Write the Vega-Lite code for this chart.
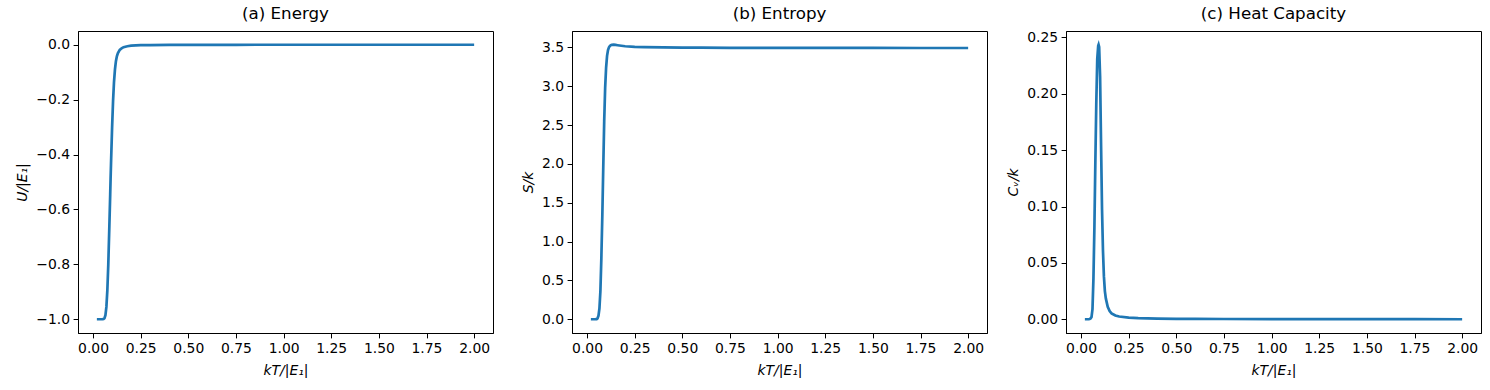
{
  "$schema": "https://vega.github.io/schema/vega-lite/v6.json",
  "padding": {"left": 15, "top": 5, "right": 0, "bottom": 0},
  "background": "white",
  "data": {"values": [
    {"t": 0.02, "U": -1.0, "S": 0.0, "C": 0.0},
    {"t": 0.03, "U": -1.0, "S": 0.0, "C": 0.0},
    {"t": 0.04, "U": -1.0, "S": 0.0, "C": 0.0},
    {"t": 0.045, "U": -1.0, "S": 0.0005, "C": 0.0002},
    {"t": 0.05, "U": -0.9998, "S": 0.002, "C": 0.0006},
    {"t": 0.055, "U": -0.999, "S": 0.012, "C": 0.002},
    {"t": 0.06, "U": -0.996, "S": 0.045, "C": 0.009},
    {"t": 0.065, "U": -0.985, "S": 0.14, "C": 0.036},
    {"t": 0.07, "U": -0.955, "S": 0.36, "C": 0.081},
    {"t": 0.075, "U": -0.895, "S": 0.78, "C": 0.139},
    {"t": 0.08, "U": -0.8, "S": 1.32, "C": 0.192},
    {"t": 0.085, "U": -0.675, "S": 1.95, "C": 0.231},
    {"t": 0.09, "U": -0.545, "S": 2.55, "C": 0.2425},
    {"t": 0.092, "U": -0.49, "S": 2.72, "C": 0.2435},
    {"t": 0.095, "U": -0.415, "S": 2.98, "C": 0.2415},
    {"t": 0.1, "U": -0.3, "S": 3.24, "C": 0.215},
    {"t": 0.105, "U": -0.205, "S": 3.39, "C": 0.155},
    {"t": 0.11, "U": -0.135, "S": 3.465, "C": 0.098},
    {"t": 0.115, "U": -0.09, "S": 3.5, "C": 0.061},
    {"t": 0.12, "U": -0.06, "S": 3.518, "C": 0.038},
    {"t": 0.125, "U": -0.042, "S": 3.527, "C": 0.025},
    {"t": 0.13, "U": -0.031, "S": 3.532, "C": 0.0185},
    {"t": 0.14, "U": -0.019, "S": 3.534, "C": 0.011},
    {"t": 0.15, "U": -0.013, "S": 3.531, "C": 0.0072},
    {"t": 0.16, "U": -0.009, "S": 3.527, "C": 0.0052},
    {"t": 0.18, "U": -0.0055, "S": 3.52, "C": 0.0033},
    {"t": 0.2, "U": -0.0036, "S": 3.514, "C": 0.0024},
    {"t": 0.25, "U": -0.0018, "S": 3.506, "C": 0.0014},
    {"t": 0.3, "U": -0.0011, "S": 3.502, "C": 0.001},
    {"t": 0.4, "U": -0.0006, "S": 3.498, "C": 0.0006},
    {"t": 0.5, "U": -0.0004, "S": 3.496, "C": 0.0004},
    {"t": 0.6, "U": -0.0003, "S": 3.495, "C": 0.0003},
    {"t": 0.75, "U": -0.0002, "S": 3.494, "C": 0.0002},
    {"t": 1.0, "U": -0.00012, "S": 3.493, "C": 0.0001},
    {"t": 1.25, "U": -0.00008, "S": 3.492, "C": 0.00007},
    {"t": 1.5, "U": -0.00006, "S": 3.492, "C": 0.00005},
    {"t": 1.75, "U": -0.00004, "S": 3.491, "C": 0.00003},
    {"t": 2.0, "U": -0.00003, "S": 3.491, "C": 0.00002}
  ]},
  "hconcat": [
    {
      "width": 415, "height": 302,
      "title": {"text": "(a) Energy"},
      "mark": {"type": "line", "color": "#1f77b4", "strokeWidth": 2.7, "clip": true},
      "encoding": {
        "x": {"field": "t", "type": "quantitative", "scale": {"domain": [-0.079, 2.099], "nice": false, "zero": false},
              "axis": {"title": "kT/|E₁|", "values": [0, 0.25, 0.5, 0.75, 1.0, 1.25, 1.5, 1.75, 2.0], "format": ".2f", "titlePadding": 8}},
        "y": {"field": "U", "type": "quantitative", "scale": {"domain": [-1.05, 0.05], "nice": false, "zero": false},
              "axis": {"title": "U/|E₁|", "values": [-1.0, -0.8, -0.6, -0.4, -0.2, 0.0], "format": ".1f"}}
      }
    },
    {
      "width": 415, "height": 302,
      "title": {"text": "(b) Entropy"},
      "mark": {"type": "line", "color": "#1f77b4", "strokeWidth": 2.7, "clip": true},
      "encoding": {
        "x": {"field": "t", "type": "quantitative", "scale": {"domain": [-0.079, 2.099], "nice": false, "zero": false},
              "axis": {"title": "kT/|E₁|", "values": [0, 0.25, 0.5, 0.75, 1.0, 1.25, 1.5, 1.75, 2.0], "format": ".2f", "titlePadding": 8}},
        "y": {"field": "S", "type": "quantitative", "scale": {"domain": [-0.177, 3.71], "nice": false, "zero": false},
              "axis": {"title": "S/k", "values": [0, 0.5, 1.0, 1.5, 2.0, 2.5, 3.0, 3.5], "format": ".1f"}}
      }
    },
    {
      "width": 415, "height": 302,
      "title": {"text": "(c) Heat Capacity"},
      "mark": {"type": "line", "color": "#1f77b4", "strokeWidth": 2.7, "clip": true},
      "encoding": {
        "x": {"field": "t", "type": "quantitative", "scale": {"domain": [-0.079, 2.099], "nice": false, "zero": false},
              "axis": {"title": "kT/|E₁|", "values": [0, 0.25, 0.5, 0.75, 1.0, 1.25, 1.5, 1.75, 2.0], "format": ".2f", "titlePadding": 8}},
        "y": {"field": "C", "type": "quantitative", "scale": {"domain": [-0.0122, 0.2557], "nice": false, "zero": false},
              "axis": {"title": "Cᵥ/k", "values": [0, 0.05, 0.1, 0.15, 0.2, 0.25], "format": ".2f"}}
      }
    }
  ],
  "spacing": 79,
  "bounds": "flush",
  "config": {
    "font": "DejaVu Sans",
    "view": {"stroke": "black", "strokeWidth": 1},
    "axis": {"grid": false, "domainColor": "black", "tickColor": "black", "labelColor": "black", "titleColor": "black",
             "labelFont": "DejaVu Sans", "labelFontSize": 13.9, "titleFont": "DejaVu Sans", "titleFontSize": 13.9,
             "titleFontWeight": "normal", "titleFontStyle": "italic", "tickSize": 4.9, "labelPadding": 3.5,
             "domainWidth": 1, "tickWidth": 1, "labelFlush": false, "labelOverlap": false, "titlePadding": 6},
    "title": {"font": "DejaVu Sans", "fontSize": 16.7, "fontWeight": "normal", "color": "black", "offset": 8, "anchor": "middle", "frame": "group"}
  }
}
